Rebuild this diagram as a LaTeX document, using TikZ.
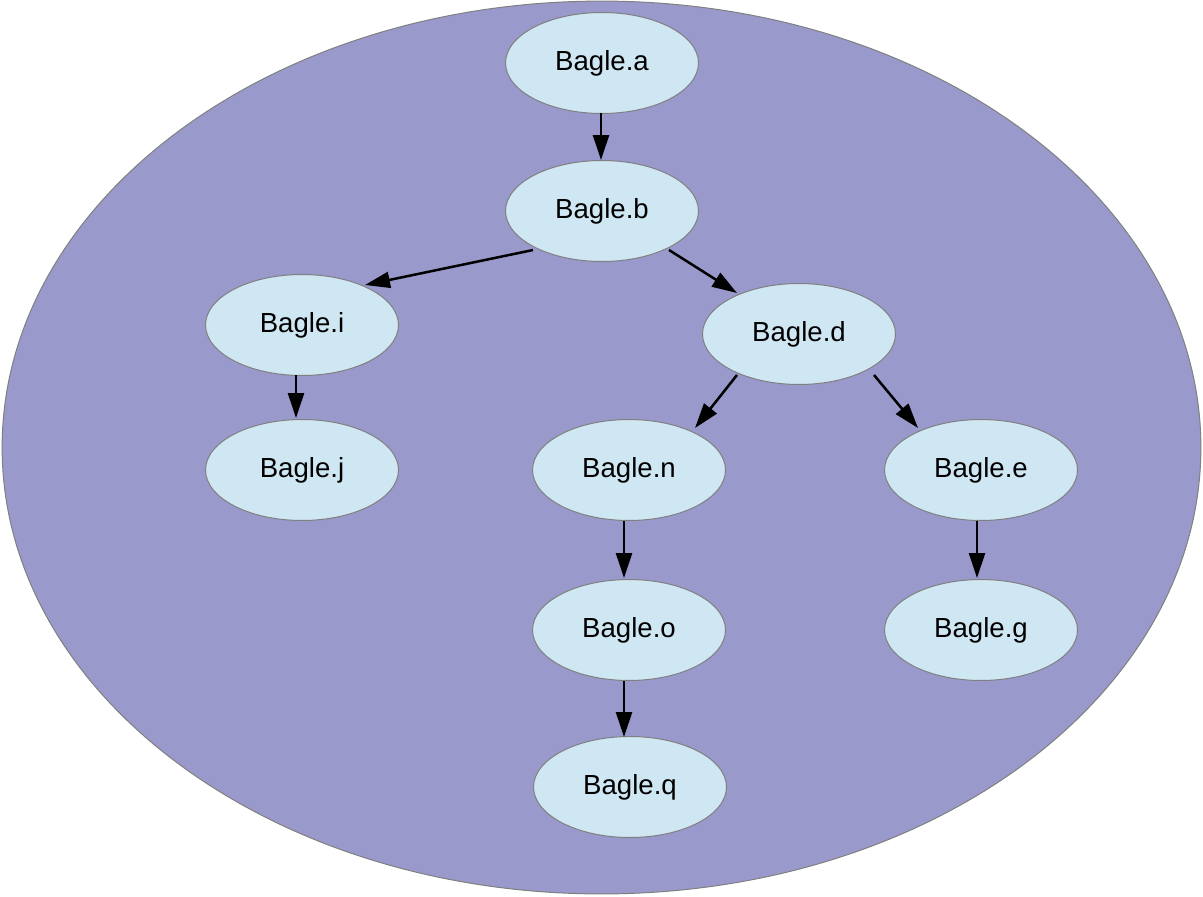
\documentclass[tikz,border=0pt]{standalone}
\usepackage{fontspec}
\setmainfont{Liberation Sans}
\usetikzlibrary{shapes.geometric,arrows.meta,calc}
\definecolor{groupfill}{HTML}{9999CC}
\definecolor{nodefill}{HTML}{CFE6F3}
\definecolor{rim}{HTML}{808080}
\begin{document}
\begin{tikzpicture}[x=0.02cm,y=-0.02cm,
  bagle/.style={ellipse, draw=rim, line width=0.02cm, fill=nodefill,
    minimum width=3.86cm, minimum height=2.02cm, inner sep=0pt,
    font=\fontsize{15.7}{18}\selectfont},
  link/.style={line width=0.05cm, -{Triangle[length=0.5cm,width=0.32cm]}}]
\useasboundingbox (0,0) rectangle (1203,896);
% enclosing group
\node[ellipse, draw=rim, line width=0.02cm, fill=groupfill,
  minimum width=23.98cm, minimum height=17.86cm, inner sep=0pt] (group) at (601.5,447.5) {};
% tree nodes
\node[bagle] (a) at (602,63)  {Bagle.a};
\node[bagle] (b) at (602,211) {Bagle.b};
\node[bagle] (i) at (302,325) {Bagle.i};
\node[bagle] (d) at (799,334) {Bagle.d};
\node[bagle] (j) at (302,470) {Bagle.j};
\node[bagle] (n) at (629,470) {Bagle.n};
\node[bagle] (e) at (981,470) {Bagle.e};
\node[bagle] (o) at (629,630) {Bagle.o};
\node[bagle] (g) at (981,630) {Bagle.g};
\node[bagle] (q) at (630,787) {Bagle.q};
% edges, offsets measured from the node centres
\draw[link] ($(a.center)+(-1,50)$)  -- ($(b.center)+(-1,-51)$);
\draw[link] ($(b.center)+(-69,39)$) -- ($(i.center)+(63,-40)$);
\draw[link] ($(b.center)+(67,39)$)  -- ($(d.center)+(-62,-41)$);
\draw[link] ($(d.center)+(-62,41)$) -- ($(n.center)+(66,-42)$);
\draw[link] ($(d.center)+(75,41)$)  -- ($(e.center)+(-63,-42)$);
\draw[link] ($(i.center)+(-6,50)$)  -- ($(j.center)+(-6,-52)$);
\draw[link] ($(n.center)+(-5,51)$)  -- ($(o.center)+(-5,-52)$);
\draw[link] ($(e.center)+(-4,51)$)  -- ($(g.center)+(-4,-52)$);
\draw[link] ($(o.center)+(-5,51)$)  -- ($(q.center)+(-6,-50)$);
\end{tikzpicture}
\end{document}
